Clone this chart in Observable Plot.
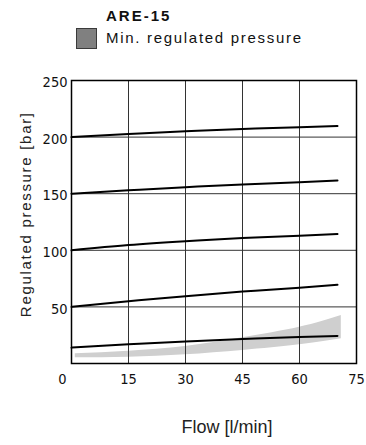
<!DOCTYPE html>
<html>
<head>
<meta charset="utf-8">
<script src="https://cdn.jsdelivr.net/npm/d3@7"></script>
<script src="https://cdn.jsdelivr.net/npm/@observablehq/plot@0.6"></script>
<style>
  html, body { margin: 0; padding: 0; background: #fff; }
  #wrap { width: 366px; height: 445px; position: relative; overflow: hidden; }
  #legend { position: relative; width: 366px; height: 55px; font-family: "Liberation Sans", Arial, sans-serif; color: #111; }
  #legend .title { position: absolute; left: 106px; top: 8px; font-size: 15px; line-height: 15px; font-weight: bold; letter-spacing: 2px; white-space: nowrap; }
  #legend .swatch { position: absolute; left: 76px; top: 28px; width: 19px; height: 19px; background: #808080; border: 1px solid #3a3a3a; }
  #legend .label { position: absolute; left: 106px; top: 30px; font-size: 15px; line-height: 15px; letter-spacing: 1.7px; white-space: nowrap; }
  svg { display: block; }
</style>
</head>
<body>
<div id="wrap">
  <div id="legend"></div>
  <div id="chart"></div>
</div>
<script>
// ---- data ----
const chartTitle = "ARE-15";
const legendLabel = "Min. regulated pressure";
const xLabel = "Flow [l/min]";
const yLabel = "Regulated pressure [bar]";

const xTicks = [15, 30, 45, 60, 75];
const xZeroTick = [0];
const yTicks = [50, 100, 150, 200, 250];
const gridXValues = [15, 30, 45, 60];
const gridYValues = [50, 100, 150, 200];

const flows = [0, 15, 30, 45, 60, 70];
const p200 = [200, 202.8, 205.2, 207.2, 208.8, 209.7];
const p150 = [150, 153, 155.8, 158.2, 160.2, 161.7];
const p100 = [100, 104.6, 108, 110.8, 112.9, 114.3];
const p50  = [50, 55, 59.5, 63.5, 67, 69.5];
const p15  = [14, 16.9, 19.4, 21.6, 23.3, 24.4];

const bandFlow = [1, 15, 30, 45, 60, 71];
const bandLow  = [5, 5.6, 7.7, 11.5, 16.5, 21.8];
const bandHigh = [8.6, 10.9, 15, 22.7, 32, 42.4];

// ---- tables ----
const seriesList = [p200, p150, p100, p50, p15];
const lines = seriesList.flatMap((s, i) => s.map((v, j) => ({series: i, flow: flows[j], p: v})));
const band = bandFlow.map((f, i) => ({flow: f, lo: bandLow[i], hi: bandHigh[i]}));

// ---- legend ----
const legend = document.getElementById("legend");
legend.innerHTML = `<div class="title"></div><div class="swatch"></div><div class="label"></div>`;
legend.querySelector(".title").textContent = chartTitle;
legend.querySelector(".label").textContent = legendLabel;

// ---- chart ----
const tickFont = "'DejaVu Sans Condensed', 'DejaVu Sans', sans-serif";
const labelFont = "'Liberation Sans', Arial, sans-serif";

const chart = Plot.plot({
  width: 366,
  height: 390,
  marginTop: 25,
  marginBottom: 82,
  marginLeft: 71,
  marginRight: 10,
  style: {fontFamily: tickFont, fontSize: "14.5px", color: "#111", background: "#fff"},
  x: {domain: [0, 75]},
  y: {domain: [0, 250]},
  marks: [
    Plot.areaY(band, {x: "flow", y1: "lo", y2: "hi", fill: "#cfcfcf", curve: "natural"}),
    Plot.gridX(gridXValues, {stroke: "#333", strokeOpacity: 1, strokeWidth: 1}),
    Plot.gridY(gridYValues, {stroke: "#333", strokeOpacity: 1, strokeWidth: 1}),
    Plot.line(lines, {x: "flow", y: "p", z: "series", stroke: "#000", strokeWidth: 2, curve: "natural"}),
    Plot.frame({stroke: "#000", strokeWidth: 1.5}),
    Plot.axisX(xTicks, {tickSize: 0, tickPadding: 10, label: null, fill: "#111", fontFamily: tickFont, fontSize: 14.5}),
    Plot.axisX(xZeroTick, {tickSize: 0, tickPadding: 10, label: null, dx: -9, fill: "#111", fontFamily: tickFont, fontSize: 14.5}),
    Plot.axisY(yTicks, {tickSize: 0, tickPadding: 4, dy: 2, label: null, fill: "#111", fontFamily: tickFont, fontSize: 14.5}),
    Plot.text([xLabel], {frameAnchor: "bottom", dy: 63.5, dx: 13, textAnchor: "middle", lineAnchor: "middle",
      fontFamily: labelFont, fontSize: 18, fill: "#222"}),
    Plot.text([yLabel], {frameAnchor: "left", dx: -45.3, dy: -7.8, rotate: -90, textAnchor: "middle", lineAnchor: "middle",
      fontFamily: labelFont, fontSize: 15, fill: "#222"})
  ]
});
document.getElementById("chart").appendChild(chart);
d3.select(chart).selectAll("text").filter(function () { return this.textContent === yLabel; })
  .style("letter-spacing", "1.7px");
</script>
</body>
</html>
